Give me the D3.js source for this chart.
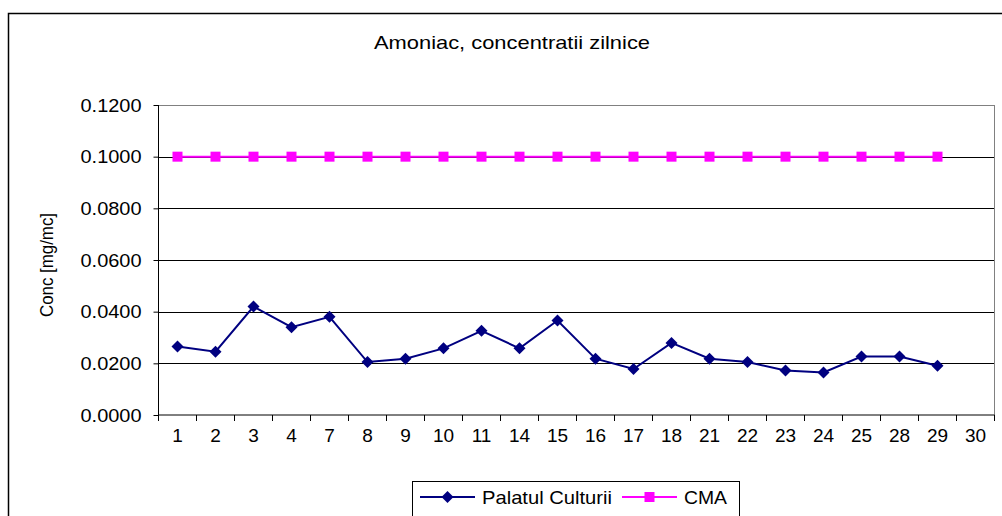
<!DOCTYPE html>
<html><head><meta charset="utf-8">
<script src="https://cdn.jsdelivr.net/npm/d3@7"></script>
<style>body{margin:0;background:#fff}svg{display:block}text{font-family:"Liberation Sans",Arial,sans-serif;fill:#000}</style>
</head><body><svg id="c" width="1002" height="516"></svg>
<script>
const categories = ["1","2","3","4","7","8","9","10","11","14","15","16","17","18","21","22","23","24","25","28","29","30"];
const palatulCulturii = [0.0265,0.0245,0.0420,0.0340,0.0380,0.0205,0.0218,0.0258,0.0326,0.0258,0.0366,0.0218,0.0178,0.0279,0.0218,0.0205,0.0172,0.0165,0.0226,0.0226,0.0191,null];
const cma = [0.1,0.1,0.1,0.1,0.1,0.1,0.1,0.1,0.1,0.1,0.1,0.1,0.1,0.1,0.1,0.1,0.1,0.1,0.1,0.1,0.1,null];
const yTicks = [0,0.02,0.04,0.06,0.08,0.10,0.12];
const title = "Amoniac, concentratii zilnice";
const yTitle = "Conc [mg/mc]";
const seriesNames = ["Palatul Culturii","CMA"];

const svg = d3.select("#c");
const L=158.5, R=994.5, T=105, B=415;
const x = d3.scaleBand().domain(categories).range([L,R]);
const y = d3.scaleLinear().domain([0,0.12]).range([B,T]);

// outer chart border
svg.append("rect").attr("x",8.5).attr("y",13.5).attr("width",1100).attr("height",600)
  .attr("fill","none").attr("stroke","#000").attr("stroke-width",1.5);

// title
svg.append("text").attr("x",512).attr("y",49).attr("text-anchor","middle")
  .style("font-size","19px").attr("textLength",276).attr("lengthAdjust","spacingAndGlyphs").text(title);

// gridlines
svg.append("g").selectAll("line").data(yTicks.filter(d=>d>0)).join("line")
  .attr("x1",L).attr("x2",R).attr("y1",d=>Math.round(y(d))+0.5).attr("y2",d=>Math.round(y(d))+0.5)
  .attr("stroke",d=>d===0.12?"#808080":"#000").attr("stroke-width",1);
// right border of plot
svg.append("line").attr("x1",R).attr("x2",R).attr("y1",T).attr("y2",B).attr("stroke","#808080");

// y axis
const yAxis = d3.axisLeft(y).tickValues(yTicks).tickFormat(d3.format(".4f")).tickSize(5).tickPadding(12);
const gy = svg.append("g").attr("transform",`translate(${L},0)`).call(yAxis);
gy.selectAll("text").style("font-size","19px").attr("textLength",61).attr("lengthAdjust","spacingAndGlyphs");
gy.selectAll("path,line").attr("stroke","#000");
gy.select(".domain").attr("d",`M0,${T}V${B}`);

// x axis
const xAxis = d3.axisBottom(x).tickSize(0).tickPadding(14);
const gx = svg.append("g").attr("transform",`translate(0,${B})`).call(xAxis);
gx.selectAll("text").style("font-size","19px");
gx.select(".domain").attr("d",`M${L},0H${R}`).attr("stroke","#000");
gx.append("g").selectAll("line").data(categories.map(c=>x(c)).concat([R])).join("line")
  .attr("x1",d=>d).attr("x2",d=>d).attr("y1",0).attr("y2",6).attr("stroke","#000");

// series
const cx = d=>x(d.c)+x.bandwidth()/2;
function draw(vals,color,marker){
  const pts = categories.map((c,i)=>({c,v:vals[i]})).filter(d=>d.v!=null);
  svg.append("path").datum(pts).attr("fill","none").attr("stroke",color).attr("stroke-width",2)
    .attr("d",d3.line().x(cx).y(d=>y(d.v)));
  svg.append("g").selectAll("path").data(pts).join("path")
    .attr("transform",d=>`translate(${cx(d)},${y(d.v)})`).attr("d",marker).attr("fill",color);
}
const diamond = "M0,-6L6,0L0,6L-6,0Z";
const square = "M-5,-5H5V5H-5Z";
draw(palatulCulturii,"#000080",diamond);
draw(cma,"#FF00FF",square);

// y title
svg.append("text").attr("transform","translate(53,265) rotate(-90)").attr("text-anchor","middle")
  .style("font-size","18px").attr("textLength",104).attr("lengthAdjust","spacingAndGlyphs").text(yTitle);

// legend
const lg = svg.append("g");
lg.append("rect").attr("x",412.5).attr("y",481.5).attr("width",327).attr("height",60).attr("fill","#fff").attr("stroke","#000");
const items=[{n:seriesNames[0],c:"#000080",m:diamond,x0:420,tw:130},{n:seriesNames[1],c:"#FF00FF",m:square,x0:622,tw:43}];
items.forEach(it=>{
  lg.append("line").attr("x1",it.x0).attr("x2",it.x0+55).attr("y1",497).attr("y2",497).attr("stroke",it.c).attr("stroke-width",2);
  lg.append("path").attr("transform",`translate(${it.x0+27.5},497)`).attr("d",it.m).attr("fill",it.c);
  lg.append("text").attr("x",it.x0+62).attr("y",503.5).style("font-size","19px")
    .attr("textLength",it.tw).attr("lengthAdjust","spacingAndGlyphs").text(it.n);
});
</script></body></html>
